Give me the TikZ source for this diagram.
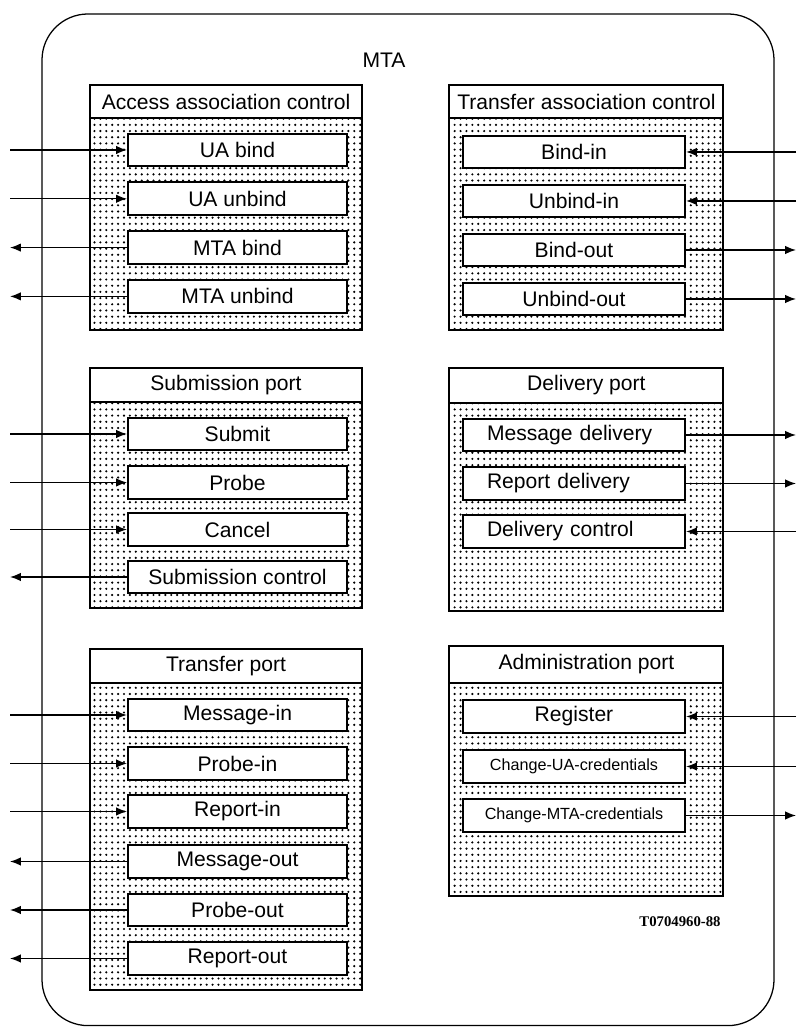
\documentclass[tikz,border=0pt]{standalone}
\usepackage{fontspec}
\setmainfont{Liberation Sans}
\newfontfamily\figfont{Liberation Serif}
\usetikzlibrary{arrows.meta,patterns}
\pgfdeclarepatternformonly{mtadots}{\pgfqpoint{-1pt}{-1pt}}{\pgfqpoint{1pt}{1pt}}{\pgfqpoint{4.2pt}{4.4pt}}{\pgfpathcircle{\pgfpointorigin}{0.85pt}\pgfusepath{fill}}
\tikzset{
	mtaframe/.style={shape=rectangle, draw, line width=0.9pt, rounded corners=1.15cm, inner sep=0pt},
	porthead/.style={shape=rectangle, draw, line width=1.5pt, fill=white, inner sep=0pt},
	portbody/.style={shape=rectangle, draw, line width=1.5pt, pattern=mtadots, inner sep=0pt},
	opbox/.style={shape=rectangle, draw, line width=1.5pt, fill=white, minimum height=0.82cm, inner sep=0pt},
	leftop/.style={opbox, minimum width=5.475cm},
	rightop/.style={opbox, minimum width=5.55cm},
	smallop/.style={font=\fontsize{11.5}{13}\selectfont},
	flow/.style={line width=1pt, -{Latex[length=2.7mm, width=2.1mm]}}
}
\begin{document}
\begin{tikzpicture}[font=\fontsize{15}{18}\selectfont]
	\useasboundingbox (0,0) rectangle (19.95,25.7);
	% Frame and title:
	\node[mtaframe, minimum width=18.3cm, minimum height=25.29cm] (mta) at (10.2, 12.705){};
	\node (mtalabel) at (9.6, 24.2){MTA};
	% Ports:
	\node[porthead, minimum width=6.8cm, minimum height=0.825cm] (aachead) at (5.65, 23.1625){Access association control};
	\node[portbody, minimum width=6.8cm, minimum height=5.3cm] (aacbody) at (5.65, 20.1){};
	\node[porthead, minimum width=6.85cm, minimum height=0.825cm] (tachead) at (14.66, 23.1625){Transfer association control};
	\node[portbody, minimum width=6.85cm, minimum height=5.3cm] (tacbody) at (14.66, 20.1){};
	\node[porthead, minimum width=6.8cm, minimum height=0.85cm] (subhead) at (5.65, 16.075){Submission port};
	\node[portbody, minimum width=6.8cm, minimum height=5.15cm] (subbody) at (5.65, 13.075){};
	\node[porthead, minimum width=6.85cm, minimum height=0.875cm] (delhead) at (14.66, 16.0625){Delivery port};
	\node[portbody, minimum width=6.85cm, minimum height=5.2cm] (delbody) at (14.66, 13.025){};
	\node[porthead, minimum width=6.8cm, minimum height=0.85cm] (trphead) at (5.65, 9.05){Transfer port};
	\node[portbody, minimum width=6.8cm, minimum height=7.675cm] (trpbody) at (5.65, 4.7875){};
	\node[porthead, minimum width=6.85cm, minimum height=0.925cm] (admhead) at (14.66, 9.0875){Administration port};
	\node[portbody, minimum width=6.85cm, minimum height=5.325cm] (admbody) at (14.66, 5.9625){};
	% Operations:
	\node[leftop] (uabind) at (5.9375, 21.95){UA bind};
	\node[leftop] (uaunbind) at (5.9375, 20.73){UA unbind};
	\node[leftop] (mtabind) at (5.9375, 19.51){MTA bind};
	\node[leftop] (mtaunbind) at (5.9375, 18.29){MTA unbind};
	\node[rightop] (bindin) at (14.35, 21.9){Bind-in};
	\node[rightop] (unbindin) at (14.35, 20.675){Unbind-in};
	\node[rightop] (bindout) at (14.35, 19.45){Bind-out};
	\node[rightop] (unbindout) at (14.35, 18.225){Unbind-out};
	\node[leftop] (submit) at (5.9375, 14.85){Submit};
	\node[leftop] (probe) at (5.9375, 13.6375){Probe};
	\node[leftop] (cancel) at (5.9375, 12.4625){Cancel};
	\node[leftop] (subctl) at (5.9375, 11.275){Submission control};
	\node[rightop, text width=4.35cm, align=left] (msgdel) at (14.35, 14.825){Message delivery};
	\node[rightop, text width=4.35cm, align=left] (repdel) at (14.35, 13.6125){Report delivery};
	\node[rightop, text width=4.35cm, align=left] (delctl) at (14.35, 12.4125){Delivery control};
	\node[leftop] (msgin) at (5.9375, 7.825){Message-in};
	\node[leftop] (probein) at (5.9375, 6.6125){Probe-in};
	\node[leftop] (repin) at (5.9375, 5.4125){Report-in};
	\node[leftop] (msgout) at (5.9375, 4.1625){Message-out};
	\node[leftop] (probeout) at (5.9375, 2.95){Probe-out};
	\node[leftop] (repout) at (5.9375, 1.7375){Report-out};
	\node[rightop] (register) at (14.35, 7.7875){Register};
	\node[rightop, smallop] (chgua) at (14.35, 6.5375){Change-UA-credentials};
	\node[rightop, smallop] (chgmta) at (14.35, 5.3125){Change-MTA-credentials};
	\node[font=\figfont\bfseries\fontsize{10.5}{12}\selectfont] (figref) at (17.0, 2.65){T0704960-88};
	% Outside ends:
	\foreach \n/\y in {uabind/21.95, uaunbind/20.73, mtabind/19.51, mtaunbind/18.29, submit/14.85, probe/13.6375, cancel/12.4625, subctl/11.275, msgin/7.825, probein/6.6125, repin/5.4125, msgout/4.1625, probeout/2.95, repout/1.7375}
		\coordinate (\n ext) at (0.25, \y);
	\foreach \n/\y in {bindin/21.9, unbindin/20.675, bindout/19.45, unbindout/18.225, msgdel/14.825, repdel/13.6125, delctl/12.4125, register/7.7875, chgua/6.5375, chgmta/5.3125}
		\coordinate (\n ext) at (19.9, \y);
	% Wires:
	\foreach \n in {uabind, uaunbind, submit, probe, cancel, msgin, probein, repin, bindin, unbindin, delctl, register, chgua}
		\draw[flow] (\n ext) -- (\n);
	\foreach \n in {mtabind, mtaunbind, subctl, msgout, probeout, repout, bindout, unbindout, msgdel, repdel, chgmta}
		\draw[flow] (\n) -- (\n ext);
\end{tikzpicture}
\end{document}
